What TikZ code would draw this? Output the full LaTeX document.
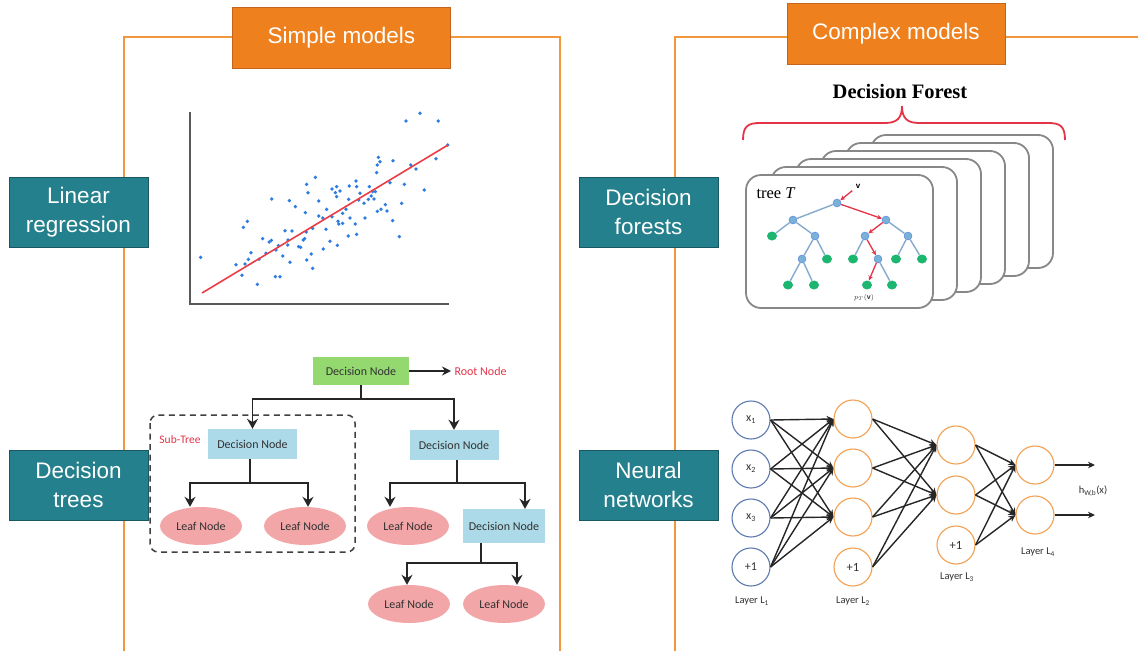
\documentclass[tikz,border=0pt]{standalone}
\usepackage{fontspec}
\setmainfont{Liberation Sans}
\newfontfamily\calfont{Carlito}
\newfontfamily\serfont{Liberation Serif}
\usetikzlibrary{arrows.meta,shapes.geometric,calc}
\definecolor{framec}{RGB}{241,152,62}
\definecolor{headfill}{RGB}{238,128,30}
\definecolor{headdraw}{RGB}{196,100,28}
\definecolor{tealfill}{RGB}{36,128,140}
\definecolor{tealdraw}{RGB}{24,88,98}
\definecolor{dotc}{RGB}{45,125,225}
\definecolor{regred}{RGB}{236,60,70}
\definecolor{rootg}{RGB}{148,216,112}
\definecolor{decb}{RGB}{172,218,232}
\definecolor{leafp}{RGB}{243,166,168}
\definecolor{tred}{RGB}{228,52,72}
\definecolor{txtd}{RGB}{50,50,50}
\definecolor{cardg}{RGB}{135,135,135}
\definecolor{tedge}{RGB}{132,170,206}
\definecolor{tin}{RGB}{120,178,214}
\definecolor{tleaf}{RGB}{28,182,112}
\definecolor{nnblue}{RGB}{92,122,176}
\definecolor{nnorange}{RGB}{242,160,82}
\begin{document}
\begin{tikzpicture}[x=1pt,y=-1pt,
  frameline/.style={draw=framec,line width=1.8pt},
  header/.style={rectangle,fill=headfill,draw=headdraw,line width=1pt,text=white,
    minimum width=218pt,minimum height=61pt,inner sep=0pt,font=\fontsize{22.5}{26}\selectfont},
  tealbox/.style={rectangle,fill=tealfill,draw=tealdraw,line width=1pt,text=white,
    minimum width=139pt,minimum height=70pt,inner sep=0pt,align=center,
    font=\fontsize{22.5}{29}\selectfont},
  rootbox/.style={rectangle,fill=rootg,minimum width=96pt,minimum height=28pt,inner sep=0pt,
    text=txtd,font=\calfont\fontsize{12}{14}\selectfont},
  decbox/.style={rectangle,fill=decb,minimum width=89pt,minimum height=30pt,inner sep=0pt,
    text=txtd,font=\calfont\fontsize{12}{14}\selectfont},
  leafbox/.style={ellipse,fill=leafp,minimum width=82pt,minimum height=38pt,inner sep=0pt,
    text=txtd,font=\calfont\fontsize{12}{14}\selectfont},
  tline/.style={draw=black!85,line width=1.6pt},
  tarr/.style={tline,-{Stealth[length=10pt,width=11pt]}},
  card/.style={draw=cardg,line width=1.8pt,fill=white,rounded corners=15pt},
  tin/.style={circle,fill=tin,draw=tin!70!blue,line width=0.4pt,minimum size=8pt,inner sep=0pt},
  tleaf/.style={ellipse,fill=tleaf,minimum width=10pt,minimum height=9pt,inner sep=0pt},
  tedge/.style={draw=tedge,line width=1.4pt},
  tredarr/.style={draw=tred,line width=1.3pt,-{Stealth[length=5pt,width=4.5pt]}},
  nnin/.style={circle,draw=nnblue,line width=1.1pt,minimum size=38pt,inner sep=0pt,
    text=txtd,font=\calfont\fontsize{12}{14}\selectfont},
  nnh/.style={circle,draw=nnorange,line width=1.1pt,minimum size=38pt,inner sep=0pt,
    text=txtd,font=\calfont\fontsize{12.5}{14}\selectfont},
  nnarr/.style={draw=black!85,line width=1.4pt,-{Stealth[length=7pt,width=6.5pt]}},
  layerlab/.style={text=txtd,font=\calfont\fontsize{10.5}{12}\selectfont}
]
\useasboundingbox (0,0) rectangle (1138,651);
\fill[white] (0,0) rectangle (1138,651);

% frames
\draw[frameline] (124,651) -- (124,37) -- (560,37) -- (560,651);
\draw[frameline] (675,651) -- (675,37) -- (1138,37);

% headers
\node[header] (hs) at (341.5,37.5) {Simple models};
\node[header] (hc) at (896,33.5) {Complex models};

% teal boxes
\node[tealbox] (lr) at (78.5,212) {Linear\\regression};
\node[tealbox] (dt) at (78.5,485) {Decision\\trees};
\node[tealbox] (df) at (648.5,212) {Decision\\forests};
\node[tealbox] (nn) at (648.5,485) {Neural\\networks};

% ---------- scatter plot ----------
\draw[black!65,line width=1.5pt] (190,112) -- (190,304) -- (449,304);
\foreach \a/\b in {92/472,198/494,216/526,225/492,235/478,243/458,220/382,232/364,262/553,267/478,
  278/416,288/460,298/426,304/421,305/297,318/450,316/530,330/530,325/437,338/468,345/392,354/420,
  353/435,360/487,358/302,366/393,376/320,386/440,392/442,400/420,404/416,406/338,409/396,410/480,
  410/253,414/278,424/462,428/505,428/385,436/232,446/303,446/348,458/354,460/447,468/388,470/328,
  480/424,486/350,486/267,496/278,500/260,500/290,502/436,504/364,506/372,510/273,518/370,518/340,
  528/328,535/408,536/298,538/258,540/354,556/372,558/243,560/260,560/403,566/300,570/280,582/310,
  585/354,595/298,598/260,604/288,608/275,612/297,616/275,620/218,622/195,622/334,625/172,630/185,
  633/328,646/314,651/333,660/248,668/362,669/182,688/410,695/310,703/253,708/63,722/195,738/207,
  750/40,763/270,798/176,805/63,833/135}
  \fill[dotc] ({170+\a/3},{100+\b/3}) circle (1.9pt);
\draw[regred,line width=1.6pt] (202,293) -- (448,145);

% ---------- decision tree ----------
\node[rootbox] (r) at (361,371) {Decision Node};
\node[text=tred,anchor=west,font=\calfont\fontsize{12}{14}\selectfont] (rn) at (451,371) {Root Node};
\draw[tline,-{Stealth[length=9pt,width=9pt]}] (r.east) -- (rn.west);
\node[decbox] (dl) at (252.5,444) {Decision Node};
\node[decbox] (dr) at (454,445) {Decision Node};
\coordinate (j1) at (361,399);
\draw[tline] (r.south) -- (j1);
\draw[tarr] (j1) -| (dl.north);
\draw[tarr] (j1) -| (dr.north);
\node[leafbox] (la) at (201,526) {Leaf Node};
\node[leafbox] (lb) at (305,526) {Leaf Node};
\coordinate (j2) at (250,483);
\draw[tline] (dl.south -| j2) -- (j2);
\draw[tarr] (j2) -| ([xshift=-11pt]la.north);
\draw[tarr] (j2) -| ([xshift=3pt]lb.north);
\node[leafbox] (lc) at (408,526) {Leaf Node};
\node[decbox,minimum width=82pt,minimum height=34pt] (d3) at (504,526) {Decision Node};
\coordinate (j3) at (457,483);
\draw[tline] (dr.south -| j3) -- (j3);
\draw[tarr] (j3) -| ([xshift=-18pt]lc.north);
\draw[tarr] (j3) -| ([xshift=21pt]d3.north);
\node[leafbox] (ld) at (409,604) {Leaf Node};
\node[leafbox] (le) at (504,604) {Leaf Node};
\coordinate (j4) at (481,563);
\draw[tline] (d3.south -| j4) -- (j4);
\draw[tarr] (j4) -| ([xshift=-2pt]ld.north);
\draw[tarr] (j4) -| ([xshift=13pt]le.north);
\draw[black!75,line width=1.5pt,dash pattern=on 6pt off 4.5pt,rounded corners=8pt] (150,415) rectangle (355,552);
\node[text=tred,font=\calfont\fontsize{11.5}{13}\selectfont] (st) at (180,440) {Sub-Tree};

% ---------- decision forest ----------
\node[font=\serfont\bfseries\fontsize{20.5}{24}\selectfont] (dfl) at (900,91) {Decision Forest};
\draw[tred,line width=1.8pt] (743,140) .. controls (743,126) and (748,123) .. (760,123) -- (885,123)
  .. controls (897,123) and (902,118) .. (902,106) .. controls (902,118) and (907,123) .. (919,123)
  -- (1048,123) .. controls (1060,123) and (1065,126) .. (1065,140);
\foreach \k in {5,4,3,2,1,0}
  \draw[card] ({746+25*\k},{175-8*\k}) rectangle ({933+24*\k},{308-8*\k});
\node[anchor=west,font=\serfont\fontsize{16.5}{18}\selectfont] (tt) at (753,193) {tree \textit{T}};
\node[tin] (R) at (837,203) {};
\node[tin] (A) at (793,220) {};
\node[tin] (B) at (886,220) {};
\node[tleaf] (Al) at (772,236) {};
\node[tin] (A2) at (815,236) {};
\node[tin] (A3) at (802,259) {};
\node[tleaf] (A2l) at (827,259) {};
\node[tleaf] (A3a) at (788,285) {};
\node[tleaf] (A3b) at (814,285) {};
\node[tin] (B1) at (865,236) {};
\node[tin] (B2) at (908,236) {};
\node[tleaf] (B1l) at (853,259) {};
\node[tin] (B3) at (878,259) {};
\node[tleaf] (B2a) at (896,259) {};
\node[tleaf] (B2b) at (922,259) {};
\node[tleaf] (B3a) at (867,285) {};
\node[tleaf] (B3b) at (892,285) {};
\foreach \u/\w in {R/A,A/Al,A/A2,A2/A3,A2/A2l,A3/A3a,A3/A3b,B/B2,B1/B1l,B2/B2a,B2/B2b,B3/B3b}
  \draw[tedge] (\u) -- (\w);
\node[font=\fontsize{8}{9}\selectfont\bfseries] (vl) at (858,186) {v};
\foreach \u/\w in {vl/R,R/B,B/B1,B1/B3,B3/B3a}
  \draw[tredarr] (\u) -- (\w);
\node[font=\fontsize{7}{8}\selectfont,text=txtd] (pt) at (864,298) {$p_T(\mathbf{v})$};

% ---------- neural network ----------
\node[nnin] (l1a) at (751,420) {x\textsubscript{1}};
\node[nnin] (l1b) at (751,469) {x\textsubscript{2}};
\node[nnin] (l1c) at (751,518) {x\textsubscript{3}};
\node[nnin] (l1d) at (751,567) {+1};
\node[nnh] (l2a) at (853,419) {};
\node[nnh] (l2b) at (853,468) {};
\node[nnh] (l2c) at (853,517) {};
\node[nnh] (l2d) at (853,567) {+1};
\node[nnh] (l3a) at (956,445) {};
\node[nnh] (l3b) at (956,495) {};
\node[nnh] (l3c) at (956,545) {+1};
\node[nnh] (l4a) at (1035,465) {};
\node[nnh] (l4b) at (1035,515) {};
\foreach \s in {l1a,l1b,l1c,l1d}
  \foreach \t in {l2a,l2b,l2c}
    \draw[nnarr] (\s.east) -- (\t.west);
\foreach \s in {l2a,l2b,l2c,l2d}
  \foreach \t in {l3a,l3b}
    \draw[nnarr] (\s.east) -- (\t.west);
\foreach \s in {l3a,l3b,l3c}
  \foreach \t in {l4a,l4b}
    \draw[nnarr] (\s.east) -- (\t.west);
\coordinate (o1) at (1095,465);
\coordinate (o2) at (1095,515);
\draw[nnarr] (l4a.east) -- (o1);
\draw[nnarr] (l4b.east) -- (o2);
\node[layerlab] (hw) at (1093,491) {h\textsubscript{W,b}(x)};
\node[layerlab] (L1) at (752,601) {Layer L\textsubscript{1}};
\node[layerlab] (L2) at (853,601) {Layer L\textsubscript{2}};
\node[layerlab] (L3) at (957,577) {Layer L\textsubscript{3}};
\node[layerlab] (L4) at (1038,552) {Layer L\textsubscript{4}};
\end{tikzpicture}
\end{document}
